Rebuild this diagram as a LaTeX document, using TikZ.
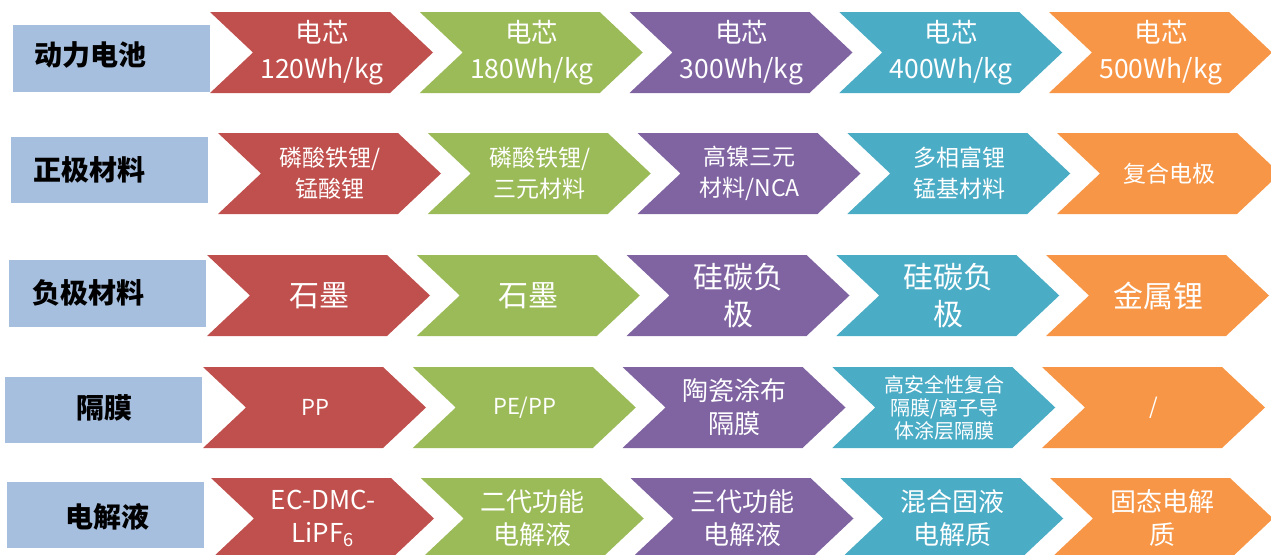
\documentclass[tikz,border=0pt]{standalone}
\usepackage{fontspec}
\newfontfamily\cjk{Noto Sans CJK SC}
\definecolor{cRed}{HTML}{C0504D}
\definecolor{cGreen}{HTML}{9BBB59}
\definecolor{cPurple}{HTML}{8064A2}
\definecolor{cTeal}{HTML}{4BACC6}
\definecolor{cOrange}{HTML}{F79646}
\definecolor{cLabel}{HTML}{A7BFDE}
\newcommand\chev[3]{%
  \fill[#3] ({#1},{#2}) -- ++(180,0) -- ++(43,40.5) -- ++(-43,40.5) -- ++(-180,0) -- ++(43,-40.5) -- cycle;}
\newcommand\chevrow[2]{%
  \chev{#1}{#2}{cRed}\chev{#1+209.75}{#2}{cGreen}\chev{#1+419.5}{#2}{cPurple}%
  \chev{#1+629.25}{#2}{cTeal}\chev{#1+839}{#2}{cOrange}}
\tikzset{
  labtext/.style={font=\cjk\bfseries\fontsize{28}{30}\selectfont, text=black, inner sep=0pt},
  labbox/.style={fill=cLabel},
  ctext/.style={text=white, align=center, inner sep=0pt},
  fA/.style={font=\cjk\fontsize{26.5}{36}\selectfont},
  fB/.style={font=\cjk\fontsize{23}{31}\selectfont},
  fC/.style={font=\cjk\fontsize{30}{37}\selectfont},
  fD/.style={font=\cjk\fontsize{22}{26}\selectfont},
  fDs/.style={font=\cjk\fontsize{20}{23}\selectfont},
  fE/.style={font=\cjk\fontsize{26}{33}\selectfont},
}
\begin{document}
\begin{tikzpicture}[x=1pt,y=-1pt]
\useasboundingbox (0,0) rectangle (1271,554);
\clip (0,0) rectangle (1271,554);
% label boxes
\fill[labbox] (13,25) rectangle (210,92);
\fill[labbox] (11,137) rectangle (208,203);
\fill[labbox] (9,260) rectangle (206,327);
\fill[labbox] (5,377) rectangle (202,443);
\fill[labbox] (7,482) rectangle (204,548);
\node[labtext] (l1) at (90,55) {动力电池};
\node[labtext] (l2) at (89,170) {正极材料};
\node[labtext] (l3) at (88,293) {负极材料};
\node[labtext] (l4) at (104,408) {隔膜};
\node[labtext] (l5) at (107,517) {电解液};
% chevrons
\chevrow{210}{12}
\chevrow{218}{133}
\chevrow{207}{255}
\chevrow{203}{367}
\chevrow{211}{478}
% row 1
\node[ctext,fA] (r1a) at (322,52.5) {电芯\\120Wh/kg};
\node[ctext,fA] (r1b) at (531.75,52.5) {电芯\\180Wh/kg};
\node[ctext,fA] (r1c) at (741.5,52.5) {电芯\\300Wh/kg};
\node[ctext,fA] (r1d) at (951.25,52.5) {电芯\\400Wh/kg};
\node[ctext,fA] (r1e) at (1161,52.5) {电芯\\500Wh/kg};
% row 2
\node[ctext,fB] (r2a) at (330,173.5) {磷酸铁锂/\\锰酸锂};
\node[ctext,fB] (r2b) at (539.75,173.5) {磷酸铁锂/\\三元材料};
\node[ctext,fB] (r2c) at (749.5,173.5) {高镍三元\\材料/NCA};
\node[ctext,fB] (r2d) at (959.25,173.5) {多相富锂\\锰基材料};
\node[ctext,fB] (r2e) at (1169,173.5) {复合电极};
% row 3
\node[ctext,fC] (r3a) at (319,295.5) {石墨};
\node[ctext,fC] (r3b) at (528.75,295.5) {石墨};
\node[ctext,fC] (r3c) at (738.5,295.5) {硅碳负\\极};
\node[ctext,fC] (r3d) at (948.25,295.5) {硅碳负\\极};
\node[ctext,fC] (r3e) at (1158,295.5) {金属锂};
% row 4
\node[ctext,fD] (r4a) at (315,407.5) {PP};
\node[ctext,fD] (r4b) at (524.75,407.5) {PE/PP};
\node[ctext,fE] (r4c) at (734.5,407.5) {陶瓷涂布\\隔膜};
\node[ctext,fDs] (r4d) at (944.25,407.5) {高安全性复合\\隔膜/离子导\\体涂层隔膜};
\node[ctext,fD] (r4e) at (1154,407.5) {/};
% row 5
\node[ctext,fE] (r5a) at (323,518.5) {EC-DMC-\\LiPF\textsubscript{6}};
\node[ctext,fE] (r5b) at (532.75,518.5) {二代功能\\电解液};
\node[ctext,fE] (r5c) at (742.5,518.5) {三代功能\\电解液};
\node[ctext,fE] (r5d) at (952.25,518.5) {混合固液\\电解质};
\node[ctext,fE] (r5e) at (1162,518.5) {固态电解\\质};
\end{tikzpicture}
\end{document}
